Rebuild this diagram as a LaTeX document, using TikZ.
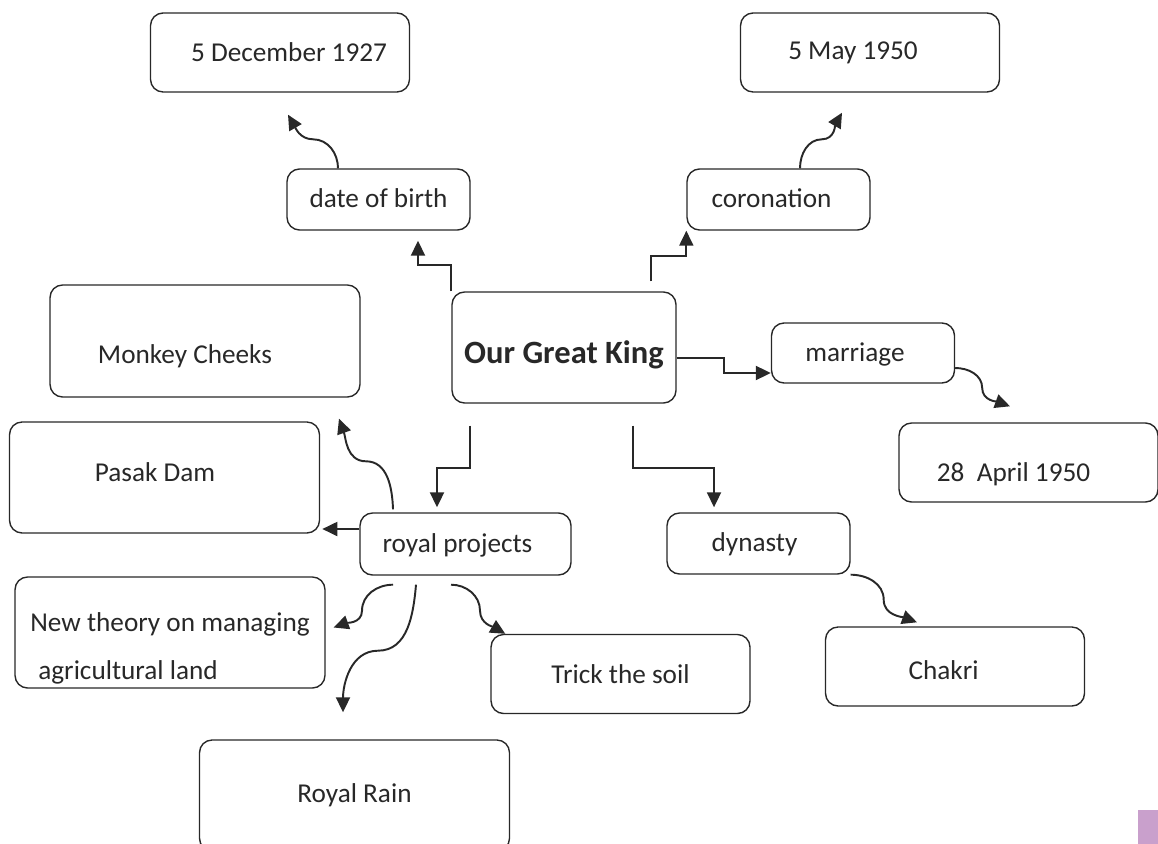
\documentclass[tikz,border=0pt]{standalone}
\usepackage{fontspec}
\setmainfont{Carlito}
\usepackage{tikz}
\usetikzlibrary{arrows.meta,positioning}
\definecolor{tab}{RGB}{201,160,204}
\definecolor{ink}{RGB}{40,40,40}
\tikzstyle{block} = [rectangle, draw=ink, text=ink, rounded corners=0.25cm, line width=0.8pt, text centered, inner sep=0pt, font=\fontsize{15.5}{18}\selectfont]
\tikzstyle{big} = [block, minimum width=6.2cm, minimum height=2.22cm]
\tikzstyle{mid} = [block, minimum width=5.18cm, minimum height=1.58cm]
\tikzstyle{small} = [block, minimum width=3.66cm, minimum height=1.22cm, text height=0.42cm, text depth=0.1cm]
\tikzstyle{line} = [draw=ink, line width=1.1pt, -{Triangle[length=0.3cm,width=0.28cm]}]

\begin{document}
\begin{tikzpicture}[x=0.02cm, y=-0.02cm]
    \useasboundingbox (0,0) rectangle (1158,844);

    \node [block, minimum width=4.48cm, minimum height=2.22cm, font=\fontsize{18.5}{21}\selectfont\bfseries, text height=0.74cm, text depth=0.1cm] (king) at (564,347.5) {Our Great King};

    \node [small] (birth) at (378.5,199.5) {date of birth};
    \node [small] (coronation) at (778.5,199.5) {coronation\hspace*{0.28cm}};
    \node [mid] (birthday) at (280,52.5) {\hspace*{0.36cm}5 December 1927};
    \node [mid] (crowned) at (870,52.5) {5 May 1950\hspace*{0.68cm}};
    \node [small, minimum height=1.2cm] (marriage) at (863,353) {marriage\hspace*{0.32cm}};
    \node [mid, text height=0.86cm, text depth=0.1cm] (wedding) at (1028.5,462.5) {28~~April 1950\hspace*{0.6cm}};

    \node [small, minimum width=4.22cm, minimum height=1.24cm] (royal) at (465.5,544) {royal projects\hspace*{0.32cm}};
    \node [small] (dynasty) at (758.5,543.5) {dynasty\hspace*{0.16cm}};
    \node [mid, text height=0.62cm, text depth=0.1cm] (chakri) at (955,666.5) {Chakri\hspace*{0.46cm}};

    \node [big, minimum height=2.24cm, text height=1.0cm, text depth=0.1cm] (monkey) at (205,341) {Monkey Cheeks\hspace*{0.8cm}};
    \node [big, text height=0.26cm, text depth=0.1cm] (pasak) at (164.5,477.5) {Pasak Dam\hspace*{0.38cm}};
    \node [big, align=left] (theory) at (170,632.5) {\rule{0pt}{1cm}New theory on managing\\[0.33cm]\hspace*{0.16cm}agricultural land};
    \node [mid] (trick) at (620.5,674) {Trick the soil};
    \node [big] (rain) at (354.5,795.5) {Royal Rain};

    % from the king
    \path [line] (king.north west) -- ++(0,-26) -| ([xshift=0.79cm,yshift=-0.2cm]birth.south);
    \path [line] ([xshift=1.74cm,yshift=0.2cm]king.north) -- ++(0,-25) -| (coronation.south west);
    \path [line] ([yshift=-0.21cm]king.east) -- ++(47,0) |- ([yshift=-0.4cm]marriage.west);
    \path [line] ([xshift=-1.88cm,yshift=-0.44cm]king.south) -- ++(0,42) -| ([xshift=-0.57cm,yshift=0.1cm]royal.north);
    \path [line] ([xshift=1.38cm,yshift=-0.44cm]king.south) -- ++(0,42) -| ([xshift=-0.89cm,yshift=0.1cm]dynasty.north);

    % second level
    \path [line] ([xshift=-0.81cm]birth.north) to[out=90,in=0] ++(-25,-29) to[out=180,in=-60] ([xshift=0.16cm,yshift=-0.44cm]birthday.south);
    \path [line] ([xshift=0.43cm]coronation.north) to[out=90,in=180] ++(22,-29) to[out=0,in=-120] ([xshift=-0.56cm,yshift=-0.4cm]crowned.south);
    \path [line] ([yshift=-0.3cm]marriage.east) to[out=0,in=90] ++(27,20) to[out=-90,in=160] ([xshift=-0.37cm,yshift=0.32cm]wedding.north);
    \path [line] (dynasty.south east) to[out=0,in=90] ++(33,25) to[out=-90,in=160] ([xshift=-0.76cm,yshift=0.08cm]chakri.north);

    % royal projects
    \path [line] ([xshift=-1.45cm,yshift=0.06cm]royal.north) to[out=92,in=0] ++(-27,-48) to[out=180,in=-70] ([xshift=2.68cm,yshift=-0.42cm]monkey.south);
    \path [line] ([yshift=0.3cm]royal.west) -- ++(-37,0);
    \path [line] ([xshift=-1.45cm,yshift=-0.18cm]royal.south) to[out=180,in=90] ++(-31,26) to[out=-90,in=20] ([xshift=0.16cm,yshift=0.1cm]theory.east);
    \path [line] ([xshift=-0.99cm,yshift=-0.18cm]royal.south) to[out=-95,in=0] ++(-38,66) to[out=180,in=90] ([xshift=-0.23cm,yshift=0.54cm]rain.north);
    \path [line] ([xshift=-0.29cm,yshift=-0.18cm]royal.south) to[out=0,in=90] ++(29,26) to[out=-90,in=150] ([xshift=0.3cm]trick.north west);

    \fill [tab] (1138,810) rectangle (1158,844);
\end{tikzpicture}
\end{document}
